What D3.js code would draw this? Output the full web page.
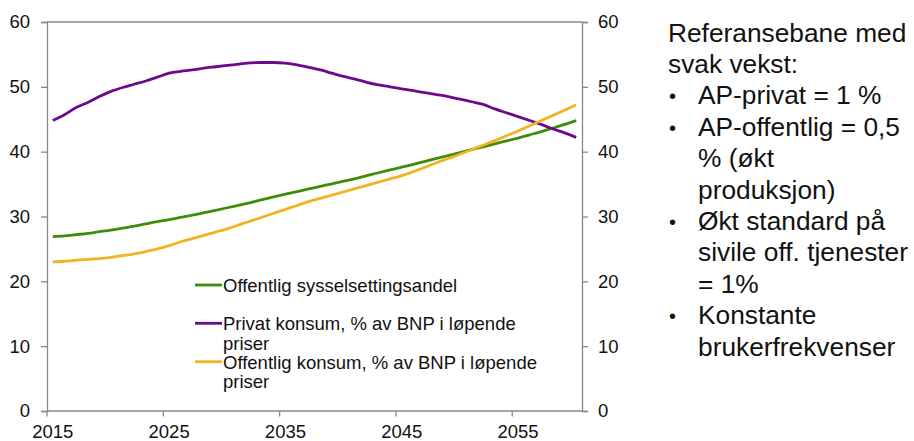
<!DOCTYPE html>
<html>
<head>
<meta charset="utf-8">
<script src="https://cdn.jsdelivr.net/npm/d3@7"></script>
<style>
  html, body { margin: 0; padding: 0; background: #ffffff; }
  svg { display: block; font-family: "Liberation Sans", Arial, sans-serif; }
</style>
</head>
<body>
<svg id="chart" width="914" height="441"></svg>
<script>
// ---- Data ----
const years = d3.range(2015, 2061);
const xTickYears = [2015, 2025, 2035, 2045, 2055];
const yTicks = [0, 10, 20, 30, 40, 50, 60];

const offentligSysselsetting = [
  26.9, 27.0, 27.2, 27.4, 27.65, 27.9, 28.2, 28.5, 28.85, 29.2,
  29.5, 29.85, 30.2, 30.58, 30.96, 31.35, 31.75, 32.15, 32.6, 33.03,
  33.45, 33.85, 34.25, 34.65, 35.05, 35.45, 35.85, 36.3, 36.75, 37.18,
  37.6, 38.05, 38.5, 38.95, 39.4, 39.85, 40.3, 40.75, 41.2, 41.65,
  42.1, 42.6, 43.1, 43.65, 44.2, 44.8
];
const privatKonsum = [
  44.8, 45.7, 46.8, 47.6, 48.5, 49.3, 49.9, 50.4, 50.9, 51.5,
  52.1, 52.4, 52.6, 52.9, 53.1, 53.3, 53.5, 53.7, 53.75, 53.75,
  53.65, 53.4, 53.0, 52.6, 52.1, 51.6, 51.2, 50.7, 50.3, 50.0,
  49.7, 49.4, 49.1, 48.8, 48.5, 48.1, 47.7, 47.3, 46.6, 46.0,
  45.4, 44.8, 44.2, 43.5, 42.9, 42.2
];
const offentligKonsum = [
  23.0, 23.1, 23.25, 23.4, 23.5, 23.7, 23.95, 24.25, 24.6, 25.0,
  25.5, 26.1, 26.6, 27.1, 27.6, 28.1, 28.7, 29.3, 29.9, 30.5,
  31.1, 31.7, 32.3, 32.8, 33.3, 33.8, 34.3, 34.8, 35.3, 35.8,
  36.3, 36.9, 37.6, 38.3, 38.95, 39.6, 40.3, 41.0, 41.7, 42.45,
  43.2, 44.0, 44.8, 45.6, 46.4, 47.2
];

const seriesNames = [
  ["Offentlig sysselsettingsandel"],
  ["Privat konsum, % av BNP i løpende", "priser"],
  ["Offentlig konsum, % av BNP i løpende", "priser"]
];
const seriesColors = ["#3f8c0a", "#6c0a8c", "#f2b322"];
const seriesValues = [offentligSysselsetting, privatKonsum, offentligKonsum];

const sideTitle = ["Referansebane med", "svak vekst:"];
const sideBullets = [
  ["AP-privat = 1 %"],
  ["AP-offentlig = 0,5", "% (økt", "produksjon)"],
  ["Økt standard på", "sivile off. tjenester", "= 1%"],
  ["Konstante", "brukerfrekvenser"]
];

// ---- Layout ----
const svg = d3.select("#chart");
const L = 47, R = 582, T = 22, B = 411;
const axisColor = "#888888";

const x = d3.scaleBand().domain(years).range([L, R]).padding(0);
const bw = x.bandwidth();
const xc = d => x(d) + bw / 2;
const y = d3.scaleLinear().domain([0, 60]).range([B, T]);

// top border line
svg.append("line").attr("x1", L).attr("x2", R).attr("y1", T).attr("y2", T)
  .attr("stroke", axisColor).attr("stroke-width", 1.3);

// left axis
const gL = svg.append("g").attr("transform", `translate(${L},0)`)
  .call(d3.axisLeft(y).tickValues(yTicks).tickSize(6).tickPadding(11).tickFormat(d3.format("d")));
// right axis
const gR = svg.append("g").attr("transform", `translate(${R},0)`)
  .call(d3.axisRight(y).tickValues(yTicks).tickSize(6).tickPadding(10).tickFormat(d3.format("d")));
// bottom axis (labels centred on categories)
const gB = svg.append("g").attr("transform", `translate(0,${B})`)
  .call(d3.axisBottom(x).tickValues(xTickYears).tickSize(0).tickPadding(13.5));
// bottom tick marks at category boundaries
gB.selectAll("line.bt").data(xTickYears).enter().append("line")
  .attr("class", "bt")
  .attr("x1", d => x(d)).attr("x2", d => x(d))
  .attr("y1", 0).attr("y2", 5.5)
  .attr("stroke", axisColor).attr("stroke-width", 1.3);

[gL, gR, gB].forEach(g => {
  g.selectAll(".domain").attr("stroke", axisColor).attr("stroke-width", 1.3);
  g.selectAll(".tick line").attr("stroke", axisColor).attr("stroke-width", 1.3);
  g.selectAll("text").attr("fill", "#111").style("font-size", "18.5px")
    .style("font-family", "'Liberation Sans', Arial, sans-serif");
});
gB.select(".domain").attr("d", `M${L},0H${R}`);

// lines
const line = d3.line().x((d, i) => xc(years[i])).y(d => y(d)).curve(d3.curveMonotoneX);
seriesValues.forEach((vals, k) => {
  svg.append("path").datum(vals)
    .attr("fill", "none")
    .attr("stroke", seriesColors[k])
    .attr("stroke-width", 2.8)
    .attr("stroke-linejoin", "round")
    .attr("d", line);
});

// legend
const legendLineY = [285, 323.3, 361.7];
const legendBase = [291.7, 330, 368.6];
const legendLH = 19.6;
const lg = svg.append("g");
seriesNames.forEach((lines, k) => {
  lg.append("line").attr("x1", 195).attr("x2", 222)
    .attr("y1", legendLineY[k]).attr("y2", legendLineY[k])
    .attr("stroke", seriesColors[k]).attr("stroke-width", 2.8);
  const t = lg.append("text").attr("x", 223).attr("y", legendBase[k])
    .attr("fill", "#111").style("font-size", "18.5px");
  lines.forEach((s, j) => {
    t.append("tspan").attr("x", 223).attr("y", legendBase[k] + j * legendLH).text(s);
  });
});

// side text
const side = svg.append("g").attr("fill", "#111").style("font-size", "26.3px");
const sideLH = 31.4;
let row = 0;
const base0 = 41.5;
sideTitle.forEach(s => {
  side.append("text").attr("x", 668).attr("y", base0 + row * sideLH).text(s);
  row++;
});
sideBullets.forEach(lines => {
  side.append("text").attr("x", 669).attr("y", base0 + row * sideLH - 1)
    .style("font-size", "20px").text("•");
  lines.forEach(s => {
    side.append("text").attr("x", 698).attr("y", base0 + row * sideLH).text(s);
    row++;
  });
});
</script>
</body>
</html>
